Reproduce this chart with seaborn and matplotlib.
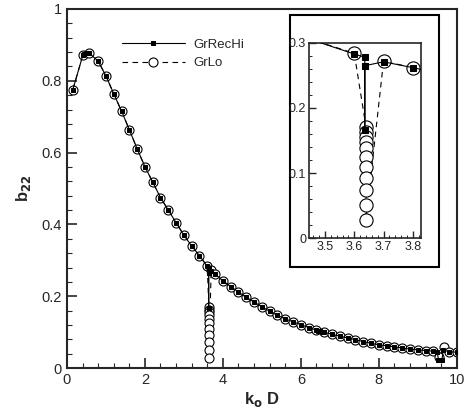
import numpy as np
import pandas as pd
import matplotlib
matplotlib.use("Agg")
import matplotlib.pyplot as plt
from matplotlib.patches import Rectangle
from matplotlib.ticker import MultipleLocator
import seaborn as sns

# GrLo: open circles, dashed line
lo_x = [0.15, 0.41, 0.56, 0.8, 1.0, 1.2, 1.4, 1.6, 1.8, 2.0, 2.2, 2.4, 2.6, 2.8,
        3.0, 3.2, 3.4, 3.6,
        3.64, 3.64, 3.64, 3.64, 3.64, 3.64, 3.64, 3.64, 3.64, 3.64, 3.64,
        3.7, 3.8, 4.0, 4.2, 4.4, 4.6, 4.8, 5.0, 5.2, 5.4, 5.6, 5.8, 6.0, 6.2,
        6.4, 6.6, 6.8, 7.0, 7.2, 7.4, 7.6, 7.8, 8.0, 8.2, 8.4, 8.6, 8.8, 9.0,
        9.2, 9.4, 9.55, 9.67, 9.8, 10.0]
lo_y = [0.775, 0.872, 0.878, 0.855, 0.814, 0.764, 0.716, 0.664, 0.611, 0.561,
        0.518, 0.475, 0.440, 0.405, 0.370, 0.340, 0.313, 0.284,
        0.171, 0.163, 0.155, 0.148, 0.138, 0.125, 0.109, 0.092, 0.074, 0.051, 0.028,
        0.272, 0.262, 0.243, 0.227, 0.212, 0.197, 0.184, 0.171, 0.158, 0.147,
        0.137, 0.129, 0.121, 0.113, 0.106, 0.100, 0.094, 0.089, 0.084, 0.079,
        0.074, 0.069, 0.065, 0.062, 0.059, 0.056, 0.053, 0.051, 0.049, 0.047,
        0.032, 0.060, 0.046, 0.045]

# GrRecHi: small filled squares, solid line
hi_x = [0.15, 0.41, 0.45, 0.5, 0.56, 0.8, 1.0, 1.2, 1.4, 1.6, 1.8, 2.0, 2.2, 2.4,
        2.6, 2.8, 3.0, 3.2, 3.4, 3.6, 3.636, 3.636, 3.636, 3.636, 3.7, 3.8,
        4.0, 4.2, 4.4, 4.6, 4.8, 5.0, 5.2, 5.4, 5.6, 5.8, 6.0, 6.2, 6.4, 6.45,
        6.5, 6.55, 6.6, 6.8, 7.0, 7.2, 7.4, 7.6, 7.8, 8.0, 8.2, 8.4, 8.6, 8.8,
        9.0, 9.2, 9.4, 9.5, 9.53, 9.62, 9.65, 9.8, 10.0]
hi_y = [0.775, 0.872, 0.876, 0.878, 0.878, 0.855, 0.814, 0.764, 0.716, 0.664,
        0.611, 0.561, 0.518, 0.475, 0.440, 0.405, 0.370, 0.340, 0.313, 0.283,
        0.278, 0.265, 0.166, 0.265, 0.271, 0.262, 0.243, 0.227, 0.212, 0.197,
        0.184, 0.171, 0.158, 0.147, 0.137, 0.129, 0.121, 0.113, 0.106, 0.104,
        0.103, 0.101, 0.100, 0.094, 0.089, 0.084, 0.079, 0.074, 0.069, 0.065,
        0.062, 0.059, 0.056, 0.053, 0.051, 0.049, 0.047, 0.046, 0.022, 0.022,
        0.050, 0.046, 0.044]

df_lo = pd.DataFrame({"x": lo_x, "y": lo_y})
df_hi = pd.DataFrame({"x": hi_x, "y": hi_y})

sns.set_style("ticks")
plt.rcParams["font.family"] = ["Liberation Sans", "DejaVu Sans"]
plt.rcParams["xtick.direction"] = "in"
plt.rcParams["ytick.direction"] = "in"

fig = plt.figure(figsize=(4.68, 4.09), dpi=100)
ax = fig.add_axes([0.143, 0.100, 0.833, 0.878])


def draw(ax, ms_lo, ms_hi, legend):
    sns.lineplot(data=df_lo, x="x", y="y", sort=False, estimator=None, ax=ax,
                 color="black", linestyle=(0, (5, 4)), linewidth=0.8, marker="o",
                 markersize=ms_lo, markerfacecolor="white",
                 markeredgecolor="black", markeredgewidth=0.8,
                 label="GrLo" if legend else None, zorder=2)
    sns.lineplot(data=df_hi, x="x", y="y", sort=False, estimator=None, ax=ax,
                 color="black", linestyle="-", linewidth=0.8, marker="s",
                 markersize=ms_hi, markerfacecolor="black",
                 markeredgecolor="black",
                 label="GrRecHi" if legend else None, zorder=3)


draw(ax, 6.5, 2.5, True)
ax.set_xlim(0, 10)
ax.set_ylim(0, 1)
ax.set_xticks([0, 2, 4, 6, 8, 10])
ax.set_yticks([0, 0.2, 0.4, 0.6, 0.8, 1])
ax.set_yticklabels(["0", "0.2", "0.4", "0.6", "0.8", "1"])
ax.xaxis.set_minor_locator(MultipleLocator(0.4))
ax.yaxis.set_minor_locator(MultipleLocator(0.04))
ax.tick_params(which="major", length=7, width=1.2, labelsize=10.5, top=False, right=False)
ax.tick_params(which="minor", length=3.5, width=0.8, top=False, right=False)
for s in ax.spines.values():
    s.set_linewidth(1.5)
    s.set_visible(True)
ax.set_xlabel("k$_\\mathbf{o}$ D", fontsize=12, fontweight="bold", labelpad=2)
ax.set_ylabel("b$_\\mathbf{22}$", fontsize=12, fontweight="bold", labelpad=6)

handles, labels = ax.get_legend_handles_labels()
order = [labels.index("GrRecHi"), labels.index("GrLo")]
ax.legend([handles[i] for i in order], [labels[i] for i in order],
          loc="upper left", bbox_to_anchor=(0.11, 0.95), frameon=False,
          fontsize=9.5, handlelength=4.8, handletextpad=0.6, labelspacing=0.45)

# inset frame
fig.patches.append(Rectangle((0.620, 0.347), 0.318, 0.616, transform=fig.transFigure,
                             fill=True, facecolor="white", edgecolor="black",
                             linewidth=1.5, zorder=5))

ins = fig.add_axes([0.660, 0.418, 0.239, 0.477])
ins.set_zorder(6)
draw(ins, 9.5, 4, False)
ins.set_xlim(3.445, 3.827)
ins.set_ylim(0, 0.3)
ins.set_xticks([3.5, 3.6, 3.7, 3.8])
ins.set_yticks([0, 0.1, 0.2, 0.3])
ins.set_yticklabels(["0", "0.1", "0.2", "0.3"])
ins.xaxis.set_minor_locator(MultipleLocator(0.02))
ins.yaxis.set_minor_locator(MultipleLocator(0.02))
ins.tick_params(which="major", length=5, width=1, labelsize=9, pad=2)
ins.tick_params(which="minor", length=2.5, width=0.7)
ins.set_xlabel("")
ins.set_ylabel("")
for s in ins.spines.values():
    s.set_linewidth(1.2)
    s.set_visible(True)

fig.savefig("out.png", dpi=100)
